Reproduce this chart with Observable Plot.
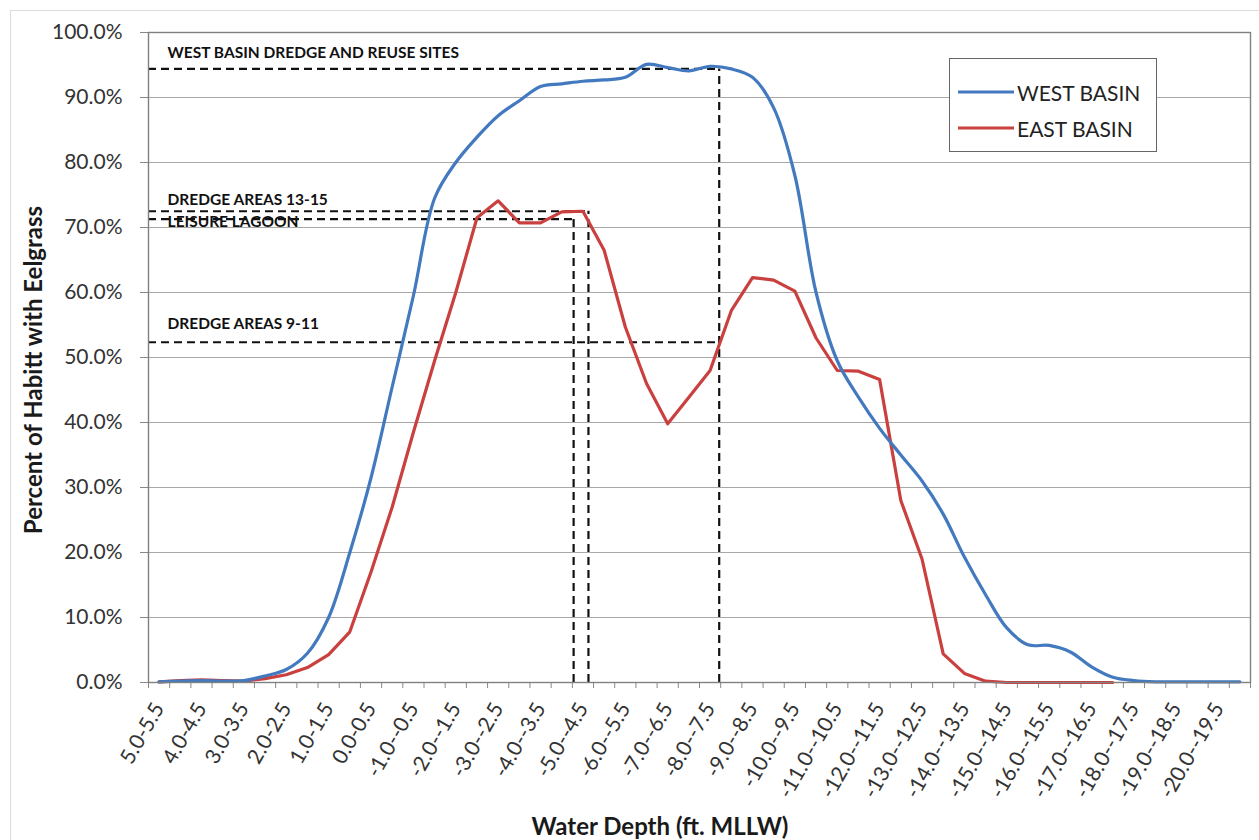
<!DOCTYPE html>
<html>
<head>
<meta charset="utf-8">
<script src="https://cdn.jsdelivr.net/npm/d3@7"></script>
<script src="https://cdn.jsdelivr.net/npm/@observablehq/plot@0.6"></script>
<style>
  html, body { margin: 0; padding: 0; background: #fff; }
  #wrap { position: relative; width: 1259px; height: 840px; overflow: hidden; font-family: Lato, "Open Sans", sans-serif; }
  #border { position: absolute; left: 10px; top: 10px; width: 1260px; height: 840px; border: 1px solid #dcdcdc; box-sizing: border-box; }
  #chart { position: absolute; left: 0; top: 0; }
  .title { position: absolute; font-weight: bold; font-size: 24px; color: #1a1a1a; white-space: nowrap; }
  #legend { position: absolute; left: 949px; top: 58px; width: 208px; height: 94px; border: 1px solid #666; background: #fff; box-sizing: border-box; }
  .lrow { position: absolute; left: 8px; height: 30px; display: flex; align-items: center; font-size: 21px; color: #222; }
  .lrow svg { margin-right: 3px; }
</style>
</head>
<body>
<div id="wrap">
  <div id="border"></div>
  <div id="chart"></div>
  <div class="title" id="ytitle">Percent of Habitt with Eelgrass</div>
  <div class="title" id="xtitle">Water Depth (ft. MLLW)</div>
  <div id="legend"></div>
</div>
<script>
// ---- data ----
const categories = [
  "5.0-5.5","4.5-5.0","4.0-4.5","3.5-4.0","3.0-3.5","2.5-3.0","2.0-2.5","1.5-2.0","1.0-1.5","0.5-1.0",
  "0.0-0.5","-0.5-0.0","-1.0--0.5","-1.5--1.0","-2.0--1.5","-2.5--2.0","-3.0--2.5","-3.5--3.0","-4.0--3.5","-4.5--4.0",
  "-5.0--4.5","-5.5--5.0","-6.0--5.5","-6.5--6.0","-7.0--6.5","-7.5--7.0","-8.0--7.5","-8.5--8.0","-9.0--8.5","-9.5--9.0",
  "-10.0--9.5","-10.5--10.0","-11.0--10.5","-11.5--11.0","-12.0--11.5","-12.5--12.0","-13.0--12.5","-13.5--13.0","-14.0--13.5","-14.5--14.0",
  "-15.0--14.5","-15.5--15.0","-16.0--15.5","-16.5--16.0","-17.0--16.5","-17.5--17.0","-18.0--17.5","-18.5--18.0","-19.0--18.5","-19.5--19.0",
  "-20.0--19.5","-20.5--20.0"
];

const westBasin = [
  0.1, 0.2, 0.3, 0.2, 0.3, 1.0, 2.0, 4.5, 10.0, 20.0,
  31.5, 45.5, 59.5, 74.5, 80.0, 83.9, 87.2, 89.5, 91.7, 92.1,
  92.5, 92.7, 93.1, 95.1, 94.6, 94.1, 94.8, 94.4, 93.1, 88.4,
  78.0, 60.0, 49.5, 43.9, 39.1, 35.0, 31.0, 25.9, 19.3, 13.5,
  8.4, 5.8, 5.7, 4.7, 2.4, 0.8, 0.3, 0.1, 0.1, 0.1,
  0.1, 0.1
];
const eastBasin = [
  0.1, 0.3, 0.4, 0.3, 0.2, 0.6, 1.2, 2.3, 4.3, 7.8,
  17.0, 27.0, 38.5, 49.5, 60.0, 71.5, 74.1, 70.7, 70.7, 72.4,
  72.5, 66.5, 54.7, 46.0, 39.8, 43.9, 48.0, 57.2, 62.3, 61.9,
  60.2, 53.0, 48.0, 47.9, 46.6, 28.0, 19.0, 4.4, 1.4, 0.2,
  0, 0, 0, 0, 0, 0
];
const yTicks = [0, 10, 20, 30, 40, 50, 60, 70, 80, 90, 100];

// annotation guides (x in category-index units, y in percent)
const guideLabels = ["WEST BASIN DREDGE AND REUSE SITES", "DREDGE AREAS 13-15", "LEISURE LAGOON", "DREDGE AREAS 9-11"];
const guideLevels = [94.4, 72.5, 71.3, 52.35];
const guideEnds = [26.43, 20.26, 19.56, 26.43];
const guideLabelY = [96.9, 74.2, 70.8, 55.2];
const verticalAt = [19.56, 20.26, 26.43];
const verticalTop = [71.3, 72.5, 94.4];

const seriesNames = ["WEST BASIN", "EAST BASIN"];
const seriesColors = ["#4279bf", "#c9403f"];

// ---- tables ----
const idx = categories.map((c, i) => i);
const westRows = westBasin.map((v, i) => ({i, v}));
const eastRows = eastBasin.map((v, i) => ({i, v}));
const hGuides = guideLevels.map((y, k) => ({y, x1: -0.5, x2: guideEnds[k]}));
const vGuides = verticalAt.map((x, k) => ({x, y1: 0, y2: verticalTop[k]}));
const gLabels = guideLabels.map((t, k) => ({t, x: 0.4, y: guideLabelY[k]}));
const boundaries = d3.range(categories.length + 1).map(k => k - 0.5);
const labelIdx = idx.filter(i => i % 2 === 0);

const chart = Plot.plot({
  width: 1259,
  height: 840,
  marginLeft: 148,
  marginRight: 9,
  marginTop: 32,
  marginBottom: 158,
  style: {fontFamily: "Lato, 'Open Sans', sans-serif", fontSize: "21px", color: "#333", background: "transparent"},
  x: {type: "linear", domain: [-0.5, categories.length - 0.5], axis: null},
  y: {domain: [0, 100], axis: null},
  marks: [
    Plot.gridY(yTicks.filter(d => d > 0 && d < 100), {stroke: "#a8a8a8", strokeOpacity: 1, strokeWidth: 1.2}),
    Plot.axisY(yTicks, {tickSize: 8, tickPadding: 18, tickFormat: d => d.toFixed(1) + "%", fontSize: 21, fill: "#333", stroke: "#888", label: null}),
    Plot.axisX(boundaries, {tickSize: 6, tickFormat: () => "", stroke: "#888", label: null}),
    Plot.axisX(labelIdx, {tickSize: 0, tickPadding: 22, tickRotate: -60, tickFormat: i => categories[i], fontSize: 21, fill: "#333", label: null}),
    Plot.ruleY(hGuides, {y: "y", x1: "x1", x2: "x2", stroke: "#111", strokeWidth: 2.2, strokeDasharray: "8,5"}),
    Plot.ruleX(vGuides, {x: "x", y1: "y1", y2: "y2", stroke: "#111", strokeWidth: 2.2, strokeDasharray: "8,5"}),
    Plot.line(eastRows, {x: "i", y: "v", stroke: seriesColors[1], strokeWidth: 3.2}),
    Plot.line(westRows, {x: "i", y: "v", stroke: seriesColors[0], strokeWidth: 3.2, curve: "catmull-rom"}),
    Plot.text(gLabels, {x: "x", y: "y", text: "t", textAnchor: "start", fontWeight: "bold", fontSize: 15.5, fill: "#111"}),
    Plot.frame({stroke: "#808080", strokeWidth: 1.4})
  ]
});
document.getElementById("chart").appendChild(chart);

// titles
const yt = document.getElementById("ytitle");
yt.style.left = "32px"; yt.style.top = "370px";
yt.style.transform = "translate(-50%, -50%) rotate(-90deg)";
const xt = document.getElementById("xtitle");
xt.style.left = "660px"; xt.style.top = "825px";
xt.style.transform = "translate(-50%, -50%)";

// legend
const lg = document.getElementById("legend");
seriesNames.forEach((name, k) => {
  const row = document.createElement("div");
  row.className = "lrow";
  row.style.top = (k === 0 ? 18 : 54) + "px";
  row.innerHTML = `<svg width="56" height="6"><line x1="0" y1="3" x2="56" y2="3" stroke="${seriesColors[k]}" stroke-width="3.2"/></svg><span>${name}</span>`;
  lg.appendChild(row);
});
</script>
</body>
</html>
